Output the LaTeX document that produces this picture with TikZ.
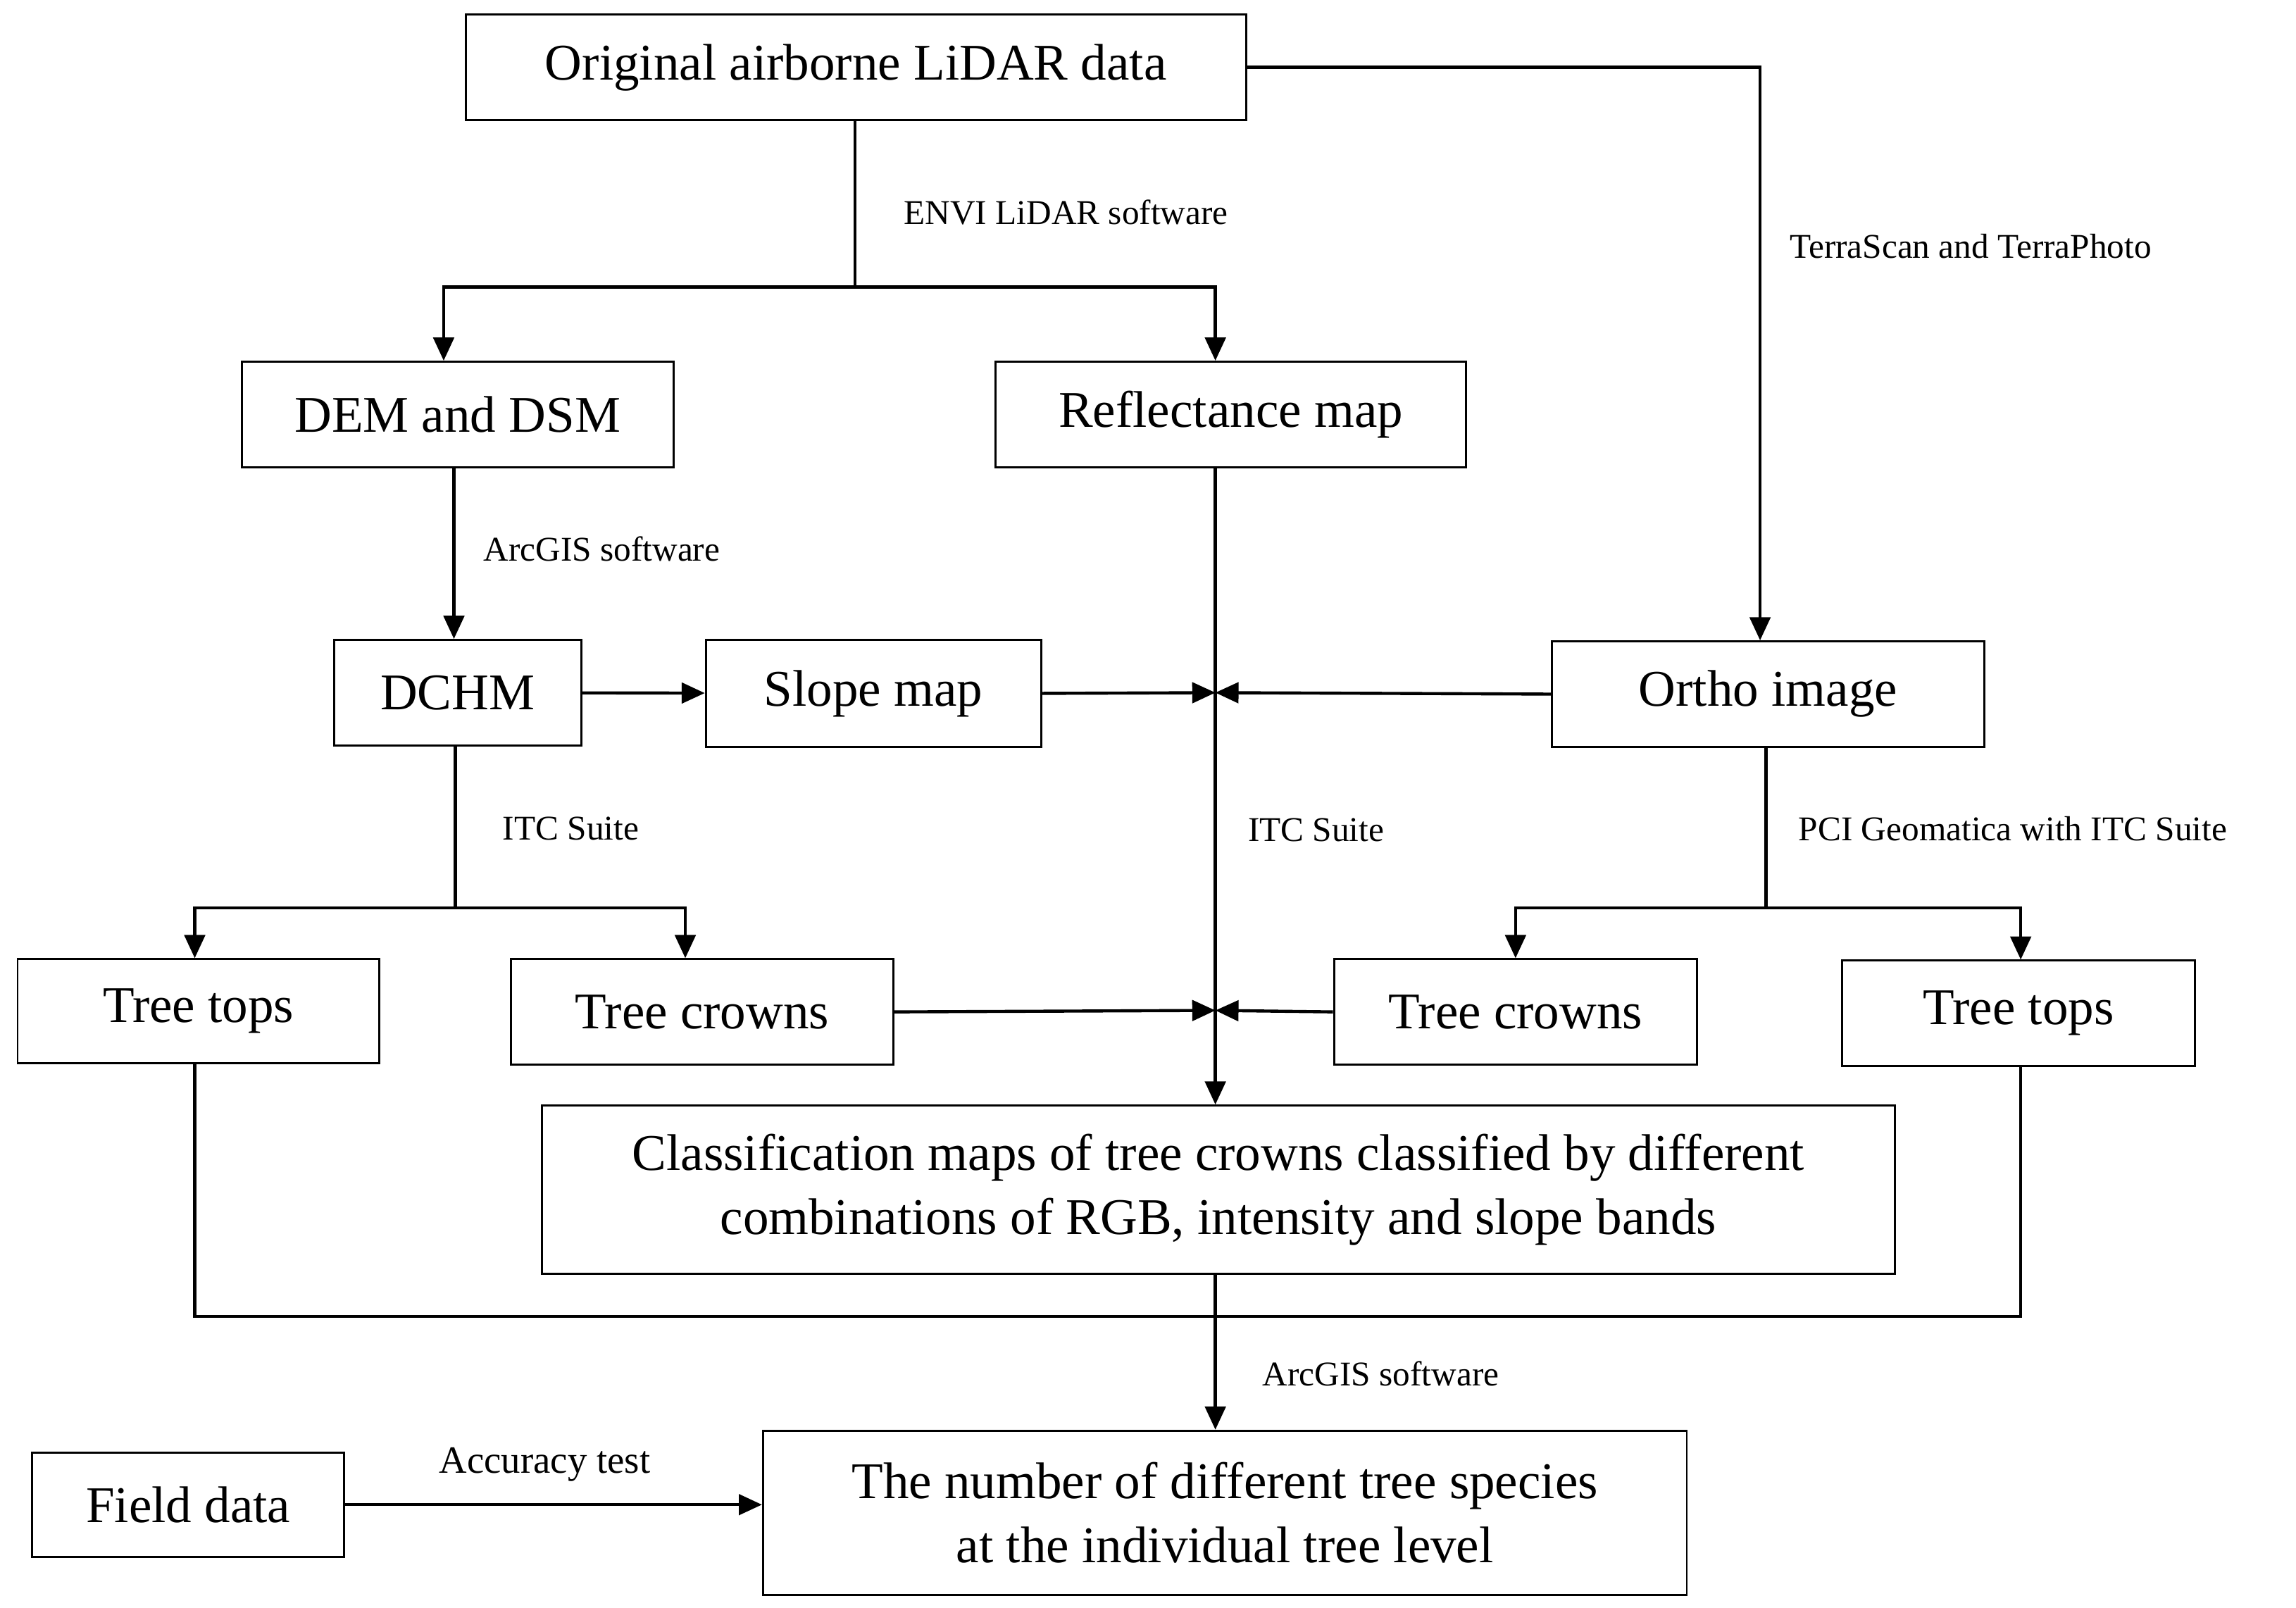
\documentclass[tikz,border=0pt]{standalone}
\usepackage{fontspec}
\setmainfont{Liberation Serif}
\usetikzlibrary{arrows.meta}
\begin{document}
\begin{tikzpicture}[x=0.02cm,y=-0.02cm,
  box/.style={draw,line width=0.8pt,inner sep=0pt,align=center,font=\fontsize{20}{25}\selectfont},
  lbl/.style={font=\fontsize{13.5}{16}\selectfont,anchor=west,inner sep=0pt},
  ln/.style={line width=1.2pt},
  arr/.style={line width=1.2pt,-{Triangle[length=9pt,width=8pt]}}]
\useasboundingbox (0,0) rectangle (1568,1098);
\node[box,minimum width=533\pgflinewidth*0+10.66cm,minimum height=1.44cm] (orig) at (584.5,46) {Original airborne LiDAR data};
\node[box,minimum width=5.9cm,minimum height=1.44cm] (dem) at (312.5,283) {DEM and DSM};
\node[box,minimum width=6.42cm,minimum height=1.44cm] (refl) at (840.5,283) {Reflectance map};
\node[box,minimum width=3.38cm,minimum height=1.44cm] (dchm) at (312.5,473) {DCHM};
\node[box,minimum width=4.58cm,minimum height=1.46cm] (slope) at (596.5,473.5) {Slope map};
\node[box,minimum width=5.9cm,minimum height=1.44cm] (ortho) at (1207.5,474) {Ortho image};
\node[box,minimum width=4.94cm,minimum height=1.42cm] (ttl) at (135.5,690.5) {Tree tops};
\node[box,minimum width=5.22cm,minimum height=1.44cm] (tcl) at (479.5,691) {Tree crowns};
\node[box,minimum width=4.96cm,minimum height=1.44cm] (tcr) at (1035,691) {Tree crowns};
\node[box,minimum width=4.82cm,minimum height=1.44cm] (ttr) at (1378.5,692) {Tree tops};
\node[box,minimum width=18.48cm,minimum height=2.3cm] (cls) at (832,812.5) {Classification maps of tree crowns classified by different\\combinations of RGB, intensity and slope bands};
\node[box,minimum width=4.26cm,minimum height=1.42cm] (field) at (128.5,1027.5) {Field data};
\node[box,minimum width=12.62cm,minimum height=2.24cm] (num) at (836.5,1033) {The number of different tree species\\at the individual tree level};
\coordinate (s1) at (584,196);
\coordinate (s2) at (311,620);
\coordinate (s3) at (1206,620);
\coordinate (j1) at (830,473);
\coordinate (j2) at (830,690);
\coordinate (b) at (133,899);
% top split
\draw[ln] (orig.south -| s1) -- (s1);
\draw[arr] (s1) -- (303,196) -- (dem.north -| 303,0);
\draw[arr] (s1) -- (830,196) -- (refl.north -| 830,0);
\draw[arr] (orig.east) -- (1202,46) -- (ortho.north -| 1202,0);
\draw[arr] (dem.south -| 310,0) -- (dchm.north -| 310,0);
\draw[arr] (dchm) -- (slope);
\draw[arr] (slope.east) -- (j1);
\draw[arr] (ortho.west) -- (j1);
\draw[arr] (refl.south -| 830,0) -- (cls.north -| 830,0);
\draw[ln] (dchm.south -| s2) -- (s2);
\draw[arr] (s2) -- (133,620) -- (ttl.north -| 133,0);
\draw[arr] (s2) -- (468,620) -- (tcl.north -| 468,0);
\draw[ln] (ortho.south -| s3) -- (s3);
\draw[arr] (s3) -- (1035,620) -- (tcr.north -| 1035,0);
\draw[arr] (s3) -- (1380,620) -- (ttr.north -| 1380,0);
\draw[arr] (tcl.east) -- (j2);
\draw[arr] (tcr.west) -- (j2);
\draw[ln] (ttl.south -| b) -- (b) -- (1380,899) -- (ttr.south -| 1380,0);
\draw[arr] (cls.south -| 830,0) -- (num.north -| 830,0);
\draw[arr] (field.east) -- (num.west |- field.east);
% labels
\node[lbl] (l1) at (617,145) {ENVI LiDAR software};
\node[lbl] (l2) at (1222,168) {TerraScan and TerraPhoto};
\node[lbl] (l3) at (330,375) {ArcGIS software};
\node[lbl] (l4) at (343,566) {ITC Suite};
\node[lbl] (l5) at (852,567) {ITC Suite};
\node[lbl] (l6) at (1228,566) {PCI Geomatica with ITC Suite};
\node[lbl] (l7) at (862,938) {ArcGIS software};
\node[lbl,anchor=center,font=\fontsize{15}{18}\selectfont] (l8) at (372,1000) {Accuracy test};
\end{tikzpicture}
\end{document}
